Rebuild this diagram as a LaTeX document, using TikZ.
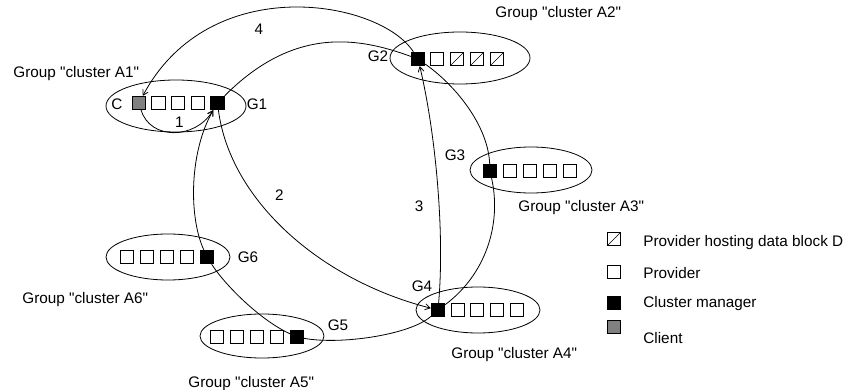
\documentclass[tikz,border=0pt]{standalone}
\usepackage{fontspec}
\newfontfamily\labelfont{Liberation Sans}
\usepackage{tikz}
\usetikzlibrary{shapes.geometric,arrows.meta}

\begin{document}
\begin{tikzpicture}[x=1pt,y=-1pt,line width=0.8pt,
		grp/.style={draw,ellipse},
		prov/.style={draw,fill=white,minimum size=13.5pt},
		mgr/.style={prov,fill=black},
		cli/.style={prov,fill=black!50},
		hosted/.style={prov,path picture={\draw[line width=0.6pt] (path picture bounding box.south west) -- (path picture bounding box.north east);}},
		lbl/.style={anchor=base},
		grplbl/.style={anchor=base west},
		link/.style={-{Straight Barb[length=5pt,width=6pt]}}]
		\tikzstyle{every node}+=[inner sep=0pt,font=\labelfont\fontsize{15.3}{18}\selectfont]
		\useasboundingbox (0,0) rectangle (846,390);
		\node [grp,minimum width=140,minimum height=52] (ca1) at (176,106) {};
		\node [grp,minimum width=140,minimum height=52] (ca2) at (460,58) {};
		\node [grp,minimum width=122,minimum height=46] (ca3) at (531,170) {};
		\node [grp,minimum width=124,minimum height=46] (ca4) at (478,310) {};
		\node [grp,minimum width=124,minimum height=44] (ca5) at (262,336) {};
		\node [grp,minimum width=124,minimum height=46] (ca6) at (168,257) {};
		\node [cli] (c) at (139,103) {};
		\node [prov] (p12) at (158.5,103) {};
		\node [prov] (p13) at (178,103) {};
		\node [prov] (p14) at (198,103) {};
		\node [mgr] (g1) at (217.5,103) {};
		\node [mgr] (g2) at (418,59) {};
		\node [prov] (p22) at (437,59) {};
		\node [hosted] (p23) at (457,59) {};
		\node [hosted] (p24) at (477,59) {};
		\node [hosted] (p25) at (497,59) {};
		\node [mgr] (g3) at (490,171) {};
		\node [prov] (p32) at (510,171) {};
		\node [prov] (p33) at (530,171) {};
		\node [prov] (p34) at (550,171) {};
		\node [prov] (p35) at (570,171) {};
		\node [mgr] (g4) at (438,310) {};
		\node [prov] (p42) at (458,310) {};
		\node [prov] (p43) at (477,310) {};
		\node [prov] (p44) at (497,310) {};
		\node [prov] (p45) at (517,310) {};
		\node [prov] (p51) at (217,337) {};
		\node [prov] (p52) at (237,337) {};
		\node [prov] (p53) at (257,337) {};
		\node [prov] (p54) at (277,337) {};
		\node [mgr] (g5) at (297,337) {};
		\node [prov] (p61) at (127,257) {};
		\node [prov] (p62) at (147,257) {};
		\node [prov] (p63) at (167,257) {};
		\node [prov] (p64) at (187,257) {};
		\node [mgr] (g6) at (207,257) {};
		\node [grplbl] (ta1) at (13,78) {Group "cluster A1"};
		\node [lbl] (tc) at (117,110) {C};
		\node [lbl] (tg1) at (257,110) {G1};
		\node [grplbl] (ta2) at (495,18) {Group "cluster A2"};
		\node [lbl] (tg2) at (378,62) {G2};
		\node [lbl] (tg3) at (455,161) {G3};
		\node [grplbl] (ta3) at (518,212) {Group "cluster A3"};
		\node [lbl] (tg4) at (422,291) {G4};
		\node [grplbl] (ta4) at (451,358) {Group "cluster A4"};
		\node [lbl] (tg5) at (338,330) {G5};
		\node [grplbl] (ta5) at (188,387) {Group "cluster A5"};
		\node [lbl] (tg6) at (248,262) {G6};
		\node [grplbl] (ta6) at (22,303) {Group "cluster A6"};
		\node [lbl] (n1) at (179.5,128) {1};
		\node [lbl] (n2) at (279.5,201) {2};
		\node [lbl] (n3) at (419,212) {3};
		\node [lbl] (n4) at (259,35) {4};
		% the ring of cluster managers
		\draw [link] (g1) .. controls (295,25) and (360,38) .. (g2)
			.. controls (455,85) and (488,125) .. (g3)
			.. controls (502,225) and (485,275) .. (g4)
			.. controls (410,335) and (340,345) .. (g5)
			.. controls (260,320) and (225,285) .. (g6)
			.. controls (188,215) and (190,150) .. (g1);
		\draw [link] (c) .. controls (150,140) and (195,140) .. (g1);
		\draw [link] (g1) .. controls (230,200) and (320,280) .. (g4);
		\draw [link] (g4) .. controls (445,230) and (435,130) .. (g2);
		\draw [link] (g2) .. controls (380,0) and (210,-30) .. (c);
		% key
		\node [hosted] (k1) at (614,239) {};
		\node [prov] (k2) at (614,272) {};
		\node [mgr] (k3) at (614,303) {};
		\node [cli] (k4) at (614,327) {};
		\node [grplbl] (tk1) at (643,247) {Provider hosting data block D};
		\node [grplbl] (tk2) at (643,278) {Provider};
		\node [grplbl] (tk3) at (643,307) {Cluster manager};
		\node [grplbl] (tk4) at (643,343) {Client};
\end{tikzpicture}
\end{document}
